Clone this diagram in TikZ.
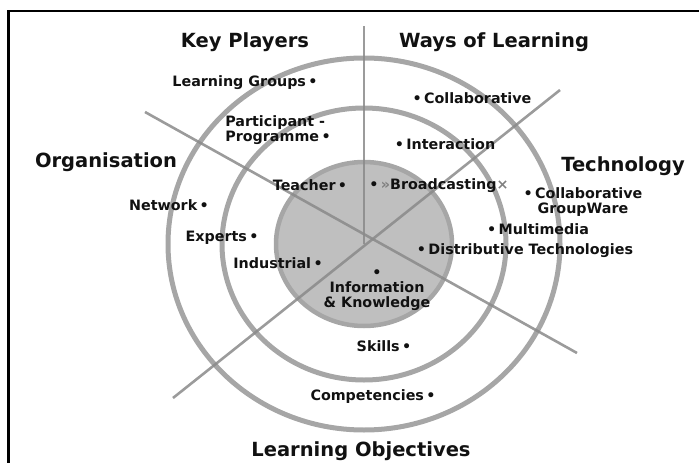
\documentclass[tikz,border=0pt]{standalone}
\usepackage{fontspec}
\setmainfont{DejaVu Sans}
\usepackage{xcolor}
\usepackage{tikz}
\definecolor{ringgrey}{HTML}{A6A6A6}
\definecolor{diskgrey}{HTML}{BFBFBF}
\definecolor{spokegrey}{HTML}{8A8A8A}
\definecolor{inkgrey}{HTML}{111111}

\begin{document}
\begin{tikzpicture}[x=1pt, y=-1pt,
    title/.style={text=inkgrey, font=\bfseries\fontsize{19.5}{21}\selectfont, inner sep=0pt},
    item/.style={text=inkgrey, font=\bfseries\fontsize{14.3}{15}\selectfont, inner sep=0pt, align=center},
    ring/.style={draw=ringgrey, line width=5pt},
    spoke/.style={draw=spokegrey, line width=2.6pt, opacity=0.85}]
    \useasboundingbox (0,0) rectangle (699,463);
    \draw[line width=2.8pt] (8.5,463) -- (8.5,11) -- (699,11);

    \coordinate (c) at (364,244);
    \coordinate (n) at (364,26);
    \coordinate (nw) at (145,112);
    \coordinate (ne) at (560,90);
    \coordinate (sw) at (173,398);
    \coordinate (se) at (577,353);

    \fill[diskgrey, draw=ringgrey, line width=4.5pt] (c) ellipse [x radius=88pt, y radius=82pt];
    \draw[ring] (c) ellipse [x radius=142pt, y radius=136pt];
    \draw[ring] (c) ellipse [x radius=196pt, y radius=186pt];

    \draw[spoke] (n) -- (c);
    \draw[spoke] (nw) -- (se);
    \draw[spoke] (ne) -- (sw);

    \node[title] (keyplayers) at (245,42) {Key Players};
    \node[title] (waysoflearning) at (494,42) {Ways of Learning};
    \node[title] (organisation) at (106,162) {Organisation};
    \node[title] (technology) at (623,166) {Technology};
    \node[title] (objectives) at (361,451) {Learning Objectives};

    \node[item] (groups) at (245,83) {Learning Groups\,•};
    \node[item, align=left] (participant) at (278,130) {Participant -\\Programme\,•};
    \node[item] (teacher) at (310,185) {Teacher\,•};
    \node[item] (network) at (169,205) {Network\,•};
    \node[item] (experts) at (222,238) {Experts\,•};
    \node[item] (industrial) at (278,263) {Industrial\,•};

    \node[item] (collab) at (472,98) {•\,Collaborative};
    \node[item] (interaction) at (445,144) {•\,Interaction};
    \node[item] (broadcast) at (439,186) {•\,{\color{gray}»}Broadcasting{\color{gray}×}};
    \node[item] (groupware) at (583,202) {•\,Collaborative\\GroupWare};
    \node[item] (multimedia) at (538,229) {•\,Multimedia};
    \node[item] (distributive) at (525,251) {•\,Distributive Technologies};

    \node[item] (information) at (377,290) {•\\Information\\\& Knowledge};
    \node[item] (skills) at (384,346) {Skills\,•};
    \node[item] (competencies) at (373,397) {Competencies\,•};
  \end{tikzpicture}
\end{document}
